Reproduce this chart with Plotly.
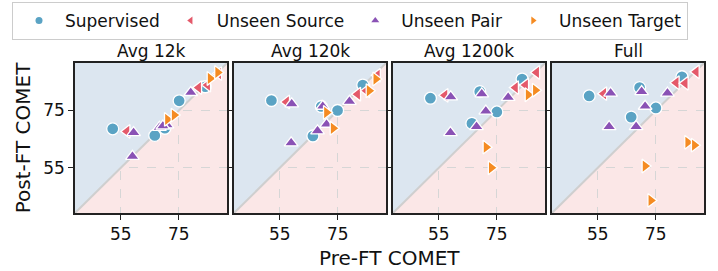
import plotly.graph_objects as go
from plotly.subplots import make_subplots

panels = ["Avg 12k", "Avg 120k", "Avg 1200k", "Full"]
series = ["Supervised", "Unseen Source", "Unseen Pair", "Unseen Target"]

# (pre-FT, post-FT) COMET per panel per series
sup_x = [[52.2, 66.7, 75.1, 70.2, 84.1], [52.1, 66.4, 74.9, 69.3, 83.6],
         [52.1, 66.4, 75.0, 69.1, 83.7], [52.0, 66.5, 75.0, 69.4, 84.0]]
sup_y = [[68.6, 66.3, 78.4, 68.8, 83.3], [78.5, 66.1, 75.0, 76.4, 83.9],
         [79.3, 70.5, 74.5, 81.6, 86.0], [80.1, 72.7, 75.9, 83.0, 86.8]]
src_x = [[57.1, 81.8, 84.9, 88.7], [57.3, 81.8, 84.9, 88.6],
         [57.1, 81.4, 84.9, 88.7], [57.0, 82.0, 85.1, 88.9]]
src_y = [[67.7, 83.0, 83.9, 87.9], [78.0, 80.7, 81.9, 87.3],
         [80.3, 83.0, 83.9, 88.3], [80.9, 84.7, 84.5, 88.5]]
pair_x = [[59.4, 59.0, 68.3, 70.9, 69.5, 79.1], [59.1, 58.9, 68.0, 71.1, 69.8, 79.0],
          [59.1, 59.0, 68.0, 71.2, 69.8, 78.9], [59.4, 58.9, 68.2, 71.3, 70.1, 79.0]]
pair_y = [[67.3, 59.0, 69.1, 70.0, 69.6, 81.3], [77.3, 63.7, 67.9, 70.2, 76.5, 78.2],
          [79.8, 67.3, 69.4, 74.8, 80.8, 79.6], [81.1, 69.4, 69.4, 76.5, 81.6, 81.1]]
tgt_x = [[71.1, 73.4, 85.8, 88.4], [71.1, 73.4, 85.8, 88.1],
         [71.3, 73.1, 85.8, 88.3], [71.3, 73.3, 86.0, 88.3]]
tgt_y = [[71.9, 73.4, 86.2, 88.3], [74.3, 68.8, 81.9, 86.0],
         [62.2, 55.0, 80.5, 82.1], [55.6, 43.6, 63.9, 62.9]]

axis_range = [39.2, 91.6]
tick_vals = [55, 75]
tick_text = ["55", "75"]

colors = ["#5aa3c4", "#e4596a", "#8a52b5", "#f58b22"]
symbols = ["circle", "triangle-left", "triangle-up", "triangle-right"]
xs = [sup_x, src_x, pair_x, tgt_x]
ys = [sup_y, src_y, pair_y, tgt_y]

FONT = "DejaVu Sans"
fig = make_subplots(rows=1, cols=4, horizontal_spacing=7 / 629)

lo, hi = axis_range
for p in range(4):
    fig.add_trace(go.Scatter(x=[lo, lo, hi, lo], y=[lo, hi, hi, lo], fill="toself",
                             fillcolor="#dce6f0", mode="none", hoverinfo="skip",
                             showlegend=False), row=1, col=p + 1)
    fig.add_trace(go.Scatter(x=[lo, hi], y=[lo, hi], mode="lines",
                             line=dict(color="#cfcfcf", width=2), hoverinfo="skip",
                             showlegend=False), row=1, col=p + 1)
    for s in range(4):
        fig.add_trace(go.Scatter(x=xs[s][p], y=ys[s][p], mode="markers",
                                 marker=dict(symbol=symbols[s], color=colors[s], size=12,
                                             line=dict(color="white", width=1.3)),
                                 showlegend=False, name=series[s]), row=1, col=p + 1)

for s in range(4):
    fig.add_trace(go.Scatter(x=[None], y=[None], mode="markers", name=series[s],
                             marker=dict(symbol=symbols[s], color=colors[s], size=7)),
                  row=1, col=1)

for p in range(4):
    fig.update_xaxes(range=axis_range, tickvals=tick_vals, ticktext=tick_text,
                     showgrid=True, gridcolor="#d6d6d6", griddash="dash", gridwidth=1,
                     showline=True, mirror=True, linecolor="#222", linewidth=1.5,
                     ticks="outside", ticklen=5, tickcolor="#222", zeroline=False,
                     tickfont=dict(size=17, family=FONT, color="#111"),
                     row=1, col=p + 1)
    fig.update_yaxes(range=axis_range, tickvals=tick_vals, ticktext=tick_text,
                     showgrid=True, gridcolor="#d6d6d6", griddash="dash", gridwidth=1,
                     showline=True, mirror=True, linecolor="#222", linewidth=1.5,
                     ticks="outside", ticklen=5, tickcolor="#222", zeroline=False,
                     showticklabels=(p == 0),
                     tickfont=dict(size=17, family=FONT, color="#111"),
                     row=1, col=p + 1)

annotations = []
for p in range(4):
    dom = fig.layout["xaxis" + ("" if p == 0 else str(p + 1))].domain
    annotations.append(dict(text=panels[p], x=(dom[0] + dom[1]) / 2, y=1, xref="paper",
                            yref="paper", xanchor="center", yanchor="bottom", yshift=0,
                            showarrow=False, font=dict(size=17, family=FONT, color="#111")))
annotations.append(dict(text="Pre-FT COMET", x=0.5, y=-0.22, xref="paper", yref="paper",
                        xanchor="center", yanchor="top", yshift=2, showarrow=False,
                        font=dict(size=20, family=FONT, color="#111")))
annotations.append(dict(text="Post-FT COMET", x=-0.06, y=0.5, xref="paper", yref="paper",
                        xanchor="right", yanchor="middle", textangle=-90, showarrow=False,
                        font=dict(size=20, family=FONT, color="#111")))

fig.update_layout(
    width=718, height=271,
    margin=dict(l=75, r=14, t=63, b=58, autoexpand=False),
    paper_bgcolor="white", plot_bgcolor="#fbe7e7",
    annotations=annotations,
    font=dict(family=FONT, color="#111"),
    legend=dict(orientation="h", x=(12 - 75) / 629, xanchor="left",
                y=1.407, yanchor="top",
                bordercolor="#cccccc", borderwidth=1, bgcolor="white",
                font=dict(size=17, family=FONT, color="#111"), itemwidth=42),
)

fig.write_html("out.html", config={"displayModeBar": False},
               post_script="document.body.style.margin='0';document.body.style.overflow='hidden';")
